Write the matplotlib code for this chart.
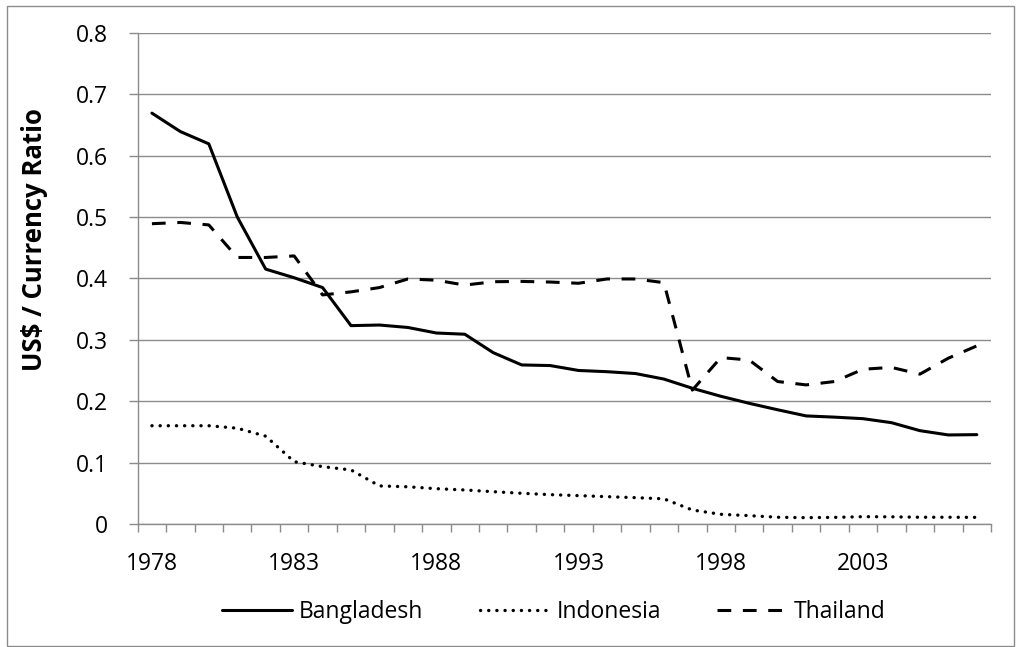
import matplotlib.pyplot as plt
from matplotlib.patches import Rectangle
import numpy as np

plt.rcParams["font.family"] = ["Open Sans", "DejaVu Sans"]

years = list(range(1978, 2008))
bangladesh = [0.669, 0.639, 0.619, 0.500, 0.415, 0.401, 0.385, 0.323, 0.324, 0.320,
              0.311, 0.309, 0.279, 0.259, 0.258, 0.250, 0.248, 0.245, 0.236, 0.221,
              0.208, 0.1965, 0.186, 0.176, 0.174, 0.1715, 0.165, 0.152, 0.145, 0.1455]
indonesia = [0.160, 0.160, 0.160, 0.156, 0.143, 0.1015, 0.0934, 0.088, 0.062, 0.0606,
             0.0575, 0.0554, 0.0526, 0.050, 0.0478, 0.0462, 0.0445, 0.0429, 0.041, 0.0228,
             0.0158, 0.0136, 0.011, 0.0103, 0.0108, 0.0119, 0.0117, 0.011, 0.011, 0.0108]
thailand = [0.489, 0.491, 0.487, 0.434, 0.434, 0.4365, 0.373, 0.378, 0.385, 0.399,
            0.397, 0.389, 0.3945, 0.395, 0.394, 0.392, 0.399, 0.399, 0.393, 0.218,
            0.271, 0.267, 0.232, 0.2265, 0.232, 0.252, 0.255, 0.244, 0.270, 0.290]
series_names = ["Bangladesh", "Indonesia", "Thailand"]
y_ticks = [0, 0.1, 0.2, 0.3, 0.4, 0.5, 0.6, 0.7, 0.8]

W, H = 1016, 647
GRAY = "#8c8c8c"
fig = plt.figure(figsize=(W / 100, H / 100), dpi=100)
ax = fig.add_axes([137.7 / W, 1 - 524 / H, (991 - 137.7) / W, (524 - 32.7) / H])

x = np.arange(len(years))
l1, = ax.plot(x, bangladesh, color="black", lw=2.2, solid_capstyle="round",
              solid_joinstyle="round")
l2, = ax.plot(x, indonesia, color="black", lw=2.4, linestyle=(0, (0.05, 2.4)),
              dash_capstyle="round")
l3, = ax.plot(x, thailand, color="black", lw=2.2, linestyle=(0, (4.5, 3.8)),
              dash_capstyle="butt")

ax.set_xlim(-0.5, len(years) - 0.5)
ax.set_ylim(0, 0.8)

# y axis
ax.set_yticks(y_ticks)
ax.set_yticklabels(["0" if v == 0 else f"{v:.1f}" for v in y_ticks])
ax.yaxis.grid(True, color=GRAY, lw=1.0)
ax.tick_params(axis="y", length=6.5, width=1.0, color=GRAY, pad=15, labelsize=16.5)

# x axis: tick marks at category boundaries, labels every 5 years
ax.set_xticks(np.arange(-0.5, len(years)), minor=False)
ax.set_xticklabels([])
ax.set_xticks(x[::5], minor=True)
ax.set_xticklabels([str(y) for y in years[::5]], minor=True)
ax.tick_params(axis="x", which="major", length=6, width=1.0, color=GRAY)
ax.tick_params(axis="x", which="minor", length=0, pad=20, labelsize=16.5)

for s in ["top", "right"]:
    ax.spines[s].set_visible(False)
for s in ["left", "bottom"]:
    ax.spines[s].set_color(GRAY)
    ax.spines[s].set_linewidth(1.0)
ax.set_axisbelow(True)

fig.text(35 / W, 1 - 240 / H, "US$ / Currency Ratio", rotation=90,
         ha="center", va="center", fontsize=18.5, fontweight="bold")

fig.legend([l1, l2, l3], series_names, loc="center",
           bbox_to_anchor=(554 / W, 1 - 611.7 / H), ncol=3, frameon=False,
           fontsize=16.5, handlelength=3.05, handletextpad=0.3,
           columnspacing=2.45, borderaxespad=0)

# chart area border
fig.patches.append(Rectangle((7 / W, 1 - 646 / H), (1014 - 7) / W, (646 - 5.7) / H,
                             transform=fig.transFigure, fill=False,
                             edgecolor=GRAY, lw=1.0))

fig.savefig("out.png", dpi=100, facecolor="white")
